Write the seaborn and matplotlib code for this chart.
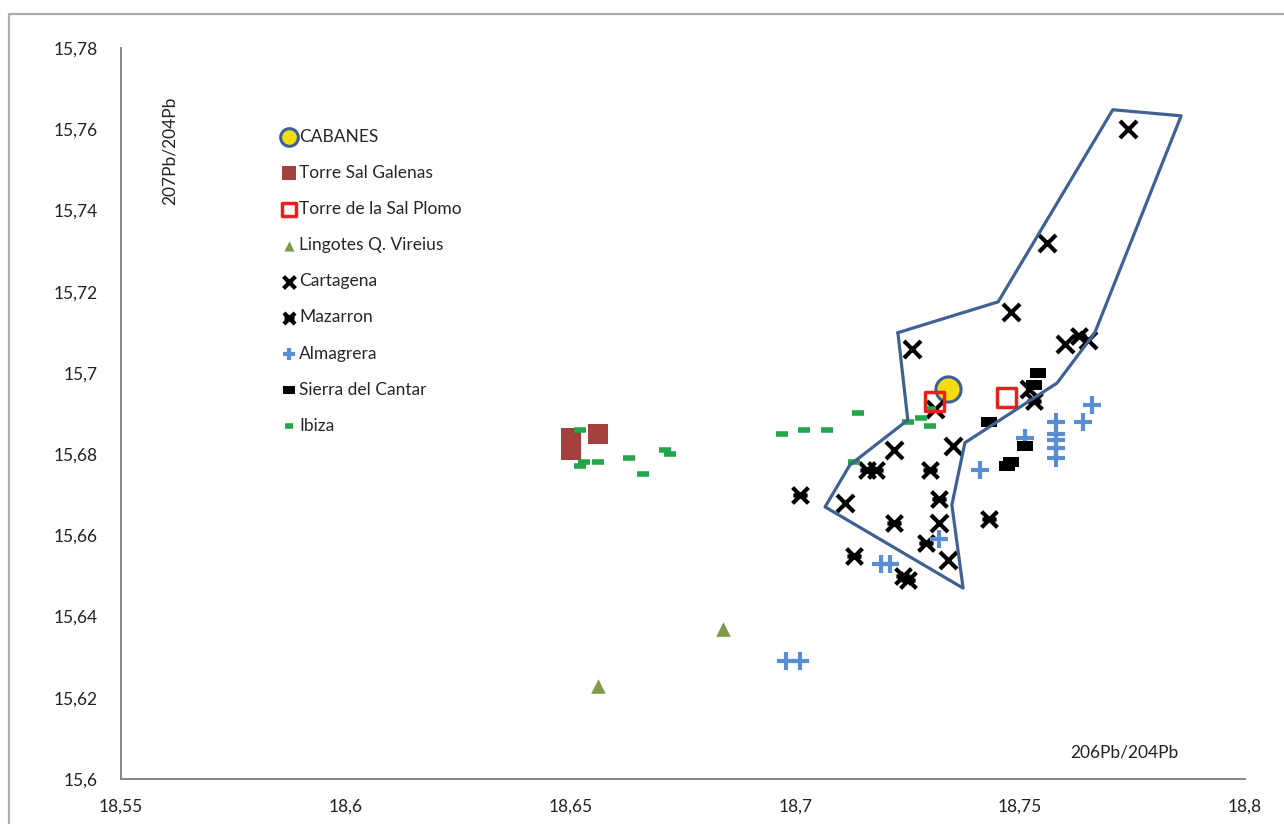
import numpy as np
import matplotlib
matplotlib.use("Agg")
import matplotlib.pyplot as plt
import seaborn as sns
from matplotlib.patches import Rectangle
from matplotlib.path import Path

# --- data ---
cabanes_x = [18.734]
cabanes_y = [15.696]

galenas_x = [18.650, 18.650, 18.656]
galenas_y = [15.684, 15.681, 15.685]

plomo_x = [18.731, 18.747]
plomo_y = [15.693, 15.694]

lingotes_x = [18.684, 18.656]
lingotes_y = [15.637, 15.623]

cartagena_x = [18.774, 18.756, 18.748, 18.726, 18.731, 18.735, 18.722, 18.711,
               18.732, 18.734, 18.752, 18.760, 18.765]
cartagena_y = [15.760, 15.732, 15.715, 15.706, 15.691, 15.682, 15.681, 15.668,
               15.663, 15.654, 15.696, 15.707, 15.708]

mazarron_x = [18.701, 18.716, 18.718, 18.730, 18.732, 18.722, 18.729, 18.743,
              18.713, 18.724, 18.725, 18.763, 18.753]
mazarron_y = [15.670, 15.676, 15.676, 15.676, 15.669, 15.663, 15.658, 15.664,
              15.655, 15.650, 15.649, 15.709, 15.693]

almagrera_x = [18.698, 18.701, 18.719, 18.721, 18.732, 18.741, 18.751, 18.758,
               18.758, 18.758, 18.758, 18.758, 18.764, 18.766]
almagrera_y = [15.629, 15.629, 15.653, 15.653, 15.659, 15.676, 15.684, 15.688,
               15.685, 15.6835, 15.6815, 15.679, 15.688, 15.692]

cantar_x = [18.754, 18.753, 18.743, 18.751, 18.748, 18.747]
cantar_y = [15.700, 15.697, 15.688, 15.682, 15.678, 15.677]

ibiza_x = [18.652, 18.653, 18.652, 18.656, 18.663, 18.666, 18.671, 18.672,
           18.697, 18.702, 18.707, 18.714, 18.725, 18.728, 18.730, 18.730, 18.713]
ibiza_y = [15.686, 15.678, 15.677, 15.678, 15.679, 15.675, 15.681, 15.680,
           15.685, 15.686, 15.686, 15.690, 15.688, 15.689, 15.691, 15.687, 15.678]

# outline drawn around the Cartagena-Mazarron field
field_x = [18.7228, 18.7451, 18.7706, 18.7858, 18.7666, 18.7582, 18.7377,
           18.7348, 18.7373, 18.7066, 18.7121, 18.7250, 18.7228]
field_y = [15.7099, 15.7175, 15.7648, 15.7633, 15.7099, 15.6975, 15.6828,
           15.6675, 15.6470, 15.6670, 15.6773, 15.6884, 15.7099]

x_ticks = [18.55, 18.6, 18.65, 18.7, 18.75, 18.8]
y_ticks = [15.6, 15.62, 15.64, 15.66, 15.68, 15.7, 15.72, 15.74, 15.76, 15.78]
x_ticklabels = ["18,55", "18,6", "18,65", "18,7", "18,75", "18,8"]
y_ticklabels = ["15,6", "15,62", "15,64", "15,66", "15,68", "15,7", "15,72",
                "15,74", "15,76", "15,78"]

sns.set_style("white")
plt.rcParams['font.family'] = ['Lato', 'DejaVu Sans']

fig = plt.figure(figsize=(12.84, 8.24), dpi=100)
ax = fig.add_axes([121 / 1284, 1 - 779 / 824, 1124 / 1284, 731 / 824])

# thin frame around the chart area, as in the source
fig.patches.append(Rectangle((0.007, -0.1), 1.2, 1.1 - 14 / 824, transform=fig.transFigure,
                             fill=False, ec="#b0aca8", lw=1.6))

bar_marker = [(-1, -0.62), (1, -0.62), (1, 0.62), (-1, 0.62)]
# bold x with a short cross bar, like the Mazarron symbol
maz_marker = Path([(-1, -1), (1, 1), (-1, 1), (1, -1), (-0.9, 0), (0.9, 0)],
                  [Path.MOVETO, Path.LINETO, Path.MOVETO, Path.LINETO,
                   Path.MOVETO, Path.LINETO])

sns.scatterplot(x=cabanes_x, y=cabanes_y, marker="o", s=330, color="#f4dc12",
                edgecolor="#3e5f9c", linewidth=2.2, label="CABANES", ax=ax, zorder=3)
sns.scatterplot(x=galenas_x, y=galenas_y, marker="s", s=200, color="#a4403d",
                edgecolor="#a4403d", linewidth=0, label="Torre Sal Galenas", ax=ax, zorder=3)
sns.scatterplot(x=plomo_x, y=plomo_y, marker="s", s=190, color="none",
                edgecolor="#e5231b", linewidth=2.5, label="Torre de la Sal Plomo", ax=ax, zorder=4)
sns.scatterplot(x=lingotes_x, y=lingotes_y, marker="^", s=110, color="#7f9b4a",
                edgecolor="#7f9b4a", linewidth=0, label="Lingotes Q. Vireius", ax=ax, zorder=3)
sns.scatterplot(x=cartagena_x, y=cartagena_y, marker="x", s=150, color="black",
                linewidth=3, label="Cartagena", ax=ax, zorder=3)
sns.scatterplot(x=mazarron_x, y=mazarron_y, marker=maz_marker, s=130, color="black",
                edgecolor="black", linewidth=3.0, label="Mazarron", ax=ax, zorder=3)
sns.scatterplot(x=almagrera_x, y=almagrera_y, marker="+", s=150, color="#5b8ed1",
                linewidth=3, label="Almagrera", ax=ax, zorder=3)
sns.scatterplot(x=cantar_x, y=cantar_y, marker=bar_marker, s=135, color="black",
                edgecolor="black", linewidth=0, label="Sierra del Cantar", ax=ax, zorder=3)
sns.scatterplot(x=ibiza_x, y=ibiza_y, marker="_", s=70, color="#23a64a",
                linewidth=4, label="Ibiza", ax=ax, zorder=3)

ax.plot(field_x, field_y, color="#3f6293", lw=2.3, zorder=5)

ax.set_xlim(18.55, 18.8)
ax.set_ylim(15.6, 15.78)
ax.set_xticks(x_ticks)
ax.set_xticklabels(x_ticklabels)
ax.set_yticks(y_ticks)
ax.set_yticklabels(y_ticklabels)
ax.tick_params(axis="both", labelsize=12.5, colors="#222222", length=5, width=1,
               direction="out", color="#8a8580")
ax.tick_params(axis="y", pad=12)
ax.tick_params(axis="x", pad=9)

for side in ["top", "right"]:
    ax.spines[side].set_visible(False)
for side in ["left", "bottom"]:
    ax.spines[side].set_color("#8a8580")
    ax.spines[side].set_linewidth(1.4)

ax.set_xlabel("")
ax.set_ylabel("")
ax.text(0.893, 0.036, "206Pb/204Pb", transform=ax.transAxes, fontsize=12.5,
        ha="center", va="center", color="#222222")
ax.text(0.0436, 0.86, "207Pb/204Pb", transform=ax.transAxes, fontsize=12.5,
        rotation=90, ha="center", va="center", color="#222222")

ax.legend(loc="upper left", bbox_to_anchor=(0.137, 0.899), frameon=False,
          fontsize=12.5, markerscale=0.7, handlelength=0.8, handletextpad=0.2,
          labelspacing=1.16, borderaxespad=0)

fig.savefig("out.png", dpi=100)
